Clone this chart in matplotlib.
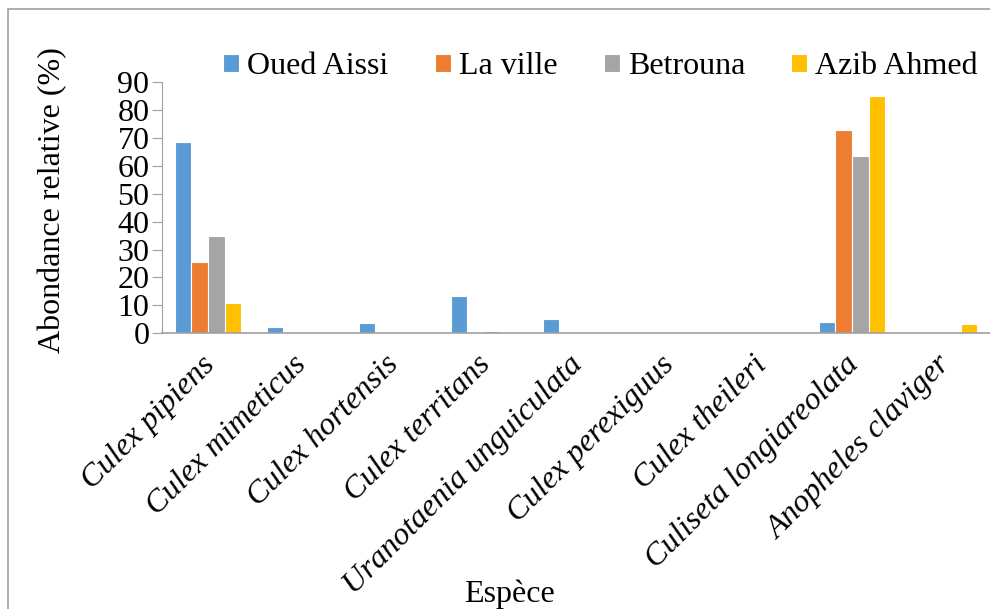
import numpy as np
import matplotlib.pyplot as plt
from matplotlib.patches import Rectangle
from matplotlib.transforms import ScaledTranslation

especes = ["Culex pipiens", "Culex mimeticus", "Culex hortensis", "Culex territans",
           "Uranotaenia unguiculata", "Culex perexiguus", "Culex theileri",
           "Culiseta longiareolata", "Anopheles claviger"]
oued_aissi = [68.5, 2.3, 3.6, 13.5, 5.0, 0, 0, 3.9, 0]
la_ville = [25.4, 0, 0.4, 0, 0, 0, 0, 72.8, 0]
betrouna = [35.0, 0, 0, 0.7, 0, 0, 0, 63.4, 0]
azib_ahmed = [10.9, 0, 0, 0, 0, 0, 0, 84.9, 3.2]

series = [("Oued Aissi", oued_aissi, "#5B9BD5"),
          ("La ville", la_ville, "#ED7D31"),
          ("Betrouna", betrouna, "#A5A5A5"),
          ("Azib Ahmed", azib_ahmed, "#FFC000")]

plt.rcParams['font.family'] = ['Liberation Serif', 'DejaVu Serif']
fs = 23

fig = plt.figure(figsize=(9.9, 6.09), dpi=100)
ax = fig.add_axes([162/990, 1-333.3/609, (990-162)/990, (333.3-82)/609])

# cadre gris autour du graphique
fig.patches.append(Rectangle((8/990, -0.01), 1.0, 1-9/609+0.01, transform=fig.transFigure,
                             fill=False, edgecolor="#A0A0A0", linewidth=1.2))

x = np.arange(len(especes))
w = 0.18
for i, (nom, vals, c) in enumerate(series):
    ax.bar(x + (i - 1.5) * w, vals, w, color=c, edgecolor="white", linewidth=0.8, label=nom)

ax.set_xlim(-0.5, len(especes) - 0.5)
ax.set_ylim(0, 90)
ax.set_yticks(range(0, 91, 10))
ax.tick_params(axis="y", labelsize=fs, length=7, color="#A0A0A0", direction="out", pad=2)
ax.tick_params(axis="x", length=0, pad=18)
ax.set_xticks(x)
ax.set_xticklabels(especes, rotation=45, ha="right", rotation_mode="anchor",
                   fontsize=fs, style="italic")
decal = ScaledTranslation(-8/100, 8/100, fig.dpi_scale_trans)
for lab in ax.get_xticklabels():
    lab.set_transform(lab.get_transform() + decal)

for s in ["top", "right"]:
    ax.spines[s].set_visible(False)
ax.spines["left"].set_color("#A0A0A0")
ax.spines["bottom"].set_color("#A0A0A0")
ax.spines["bottom"].set_linewidth(1.2)

ax.set_ylabel("Abondance relative (%)", fontsize=fs)
ax.yaxis.set_label_coords(-0.114, 0.53)
ax.set_xlabel("Espèce", fontsize=fs)
ax.xaxis.set_label_coords(0.42, -0.98)

ax.legend(loc="center left", bbox_to_anchor=(0.074, 1.06), ncol=4, frameon=False, fontsize=fs,
          handlelength=0.5, handleheight=0.5, handletextpad=0.25, columnspacing=1.45,
          borderpad=0, borderaxespad=0)

fig.savefig("out.png", dpi=100)
